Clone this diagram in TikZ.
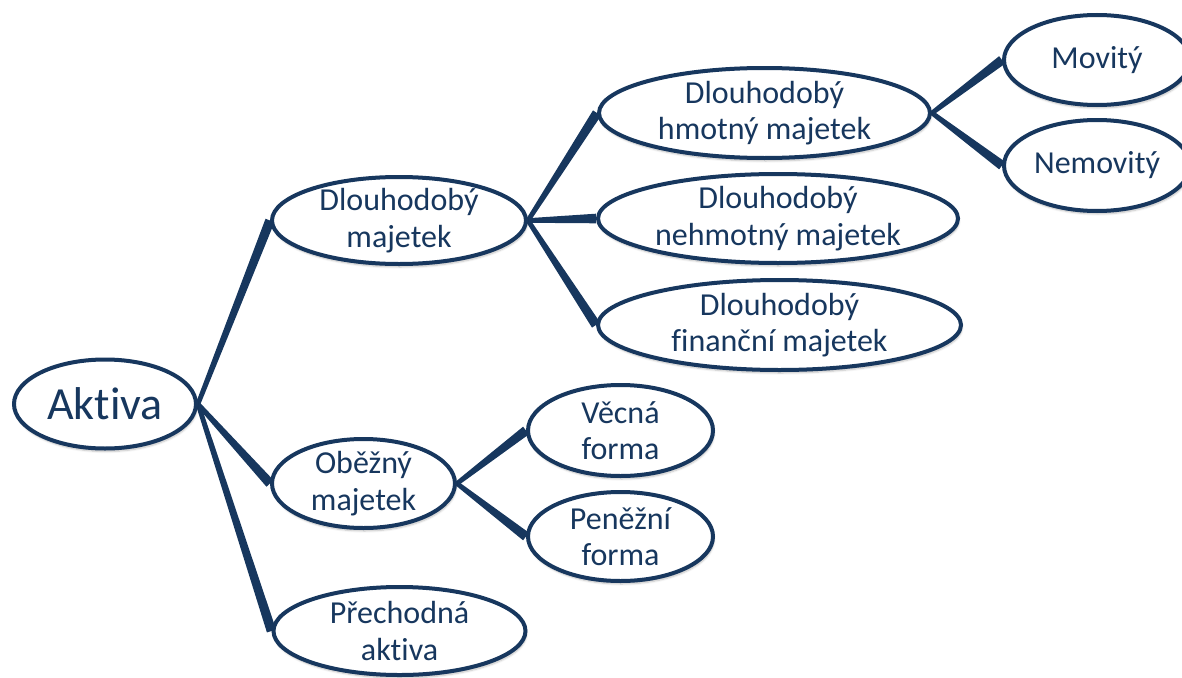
\documentclass[tikz,border=0pt]{standalone}
\usepackage{fontspec}
\setmainfont{Carlito}[Ligatures={NoCommon}]
\usetikzlibrary{shapes.geometric,shadows.blur,calc,backgrounds}
\definecolor{navy}{HTML}{17375E}
\tikzset{
  ell/.style={ellipse, draw=navy, line width=4pt, fill=white, inner sep=0pt,
    blur shadow={shadow xshift=1pt, shadow yshift=-3pt, shadow opacity=25, shadow blur steps=6}},
  txt/.style={text=navy, align=center, font=\fontsize{32}{36.5}\selectfont, inner sep=0pt},
  bigtxt/.style={text=navy, align=center, font=\fontsize{46}{50}\selectfont, inner sep=0pt},
}
\newcommand{\taperlink}[2]{%
  \fill[navy] ($(#1.east)!2.3pt!90:(#2.west)$) -- ($(#2.west)!4.8pt!-90:(#1.east)$)
    -- ($(#2.west)!4.8pt!90:(#1.east)$) -- ($(#1.east)!2.3pt!-90:(#2.west)$) -- cycle;}
\begin{document}
\begin{tikzpicture}[x=1pt,y=-1pt]
\useasboundingbox (0,0) rectangle (1182,677);

\node[ell, minimum width=182pt, minimum height=89pt, label={[bigtxt]center:Aktiva}] (akt) at (105,404) {};

\node[ell, minimum width=254pt, minimum height=87pt, label={[txt]center:{Dlouhodobý\\majetek}}] (dm) at (399,220.5) {};
\node[ell, minimum width=183pt, minimum height=89pt, label={[txt]center:{Oběžný\\majetek}}] (om) at (363.5,483.5) {};
\node[ell, minimum width=252pt, minimum height=88pt, label={[txt]center:{Přechodná\\aktiva}}] (pa) at (399.5,631) {};

\node[ell, minimum width=331pt, minimum height=90pt, label={[txt]center:{Dlouhodobý\\hmotný majetek}}] (dhm) at (764.5,113) {};
\node[ell, minimum width=360pt, minimum height=89pt, label={[txt]center:{Dlouhodobý\\nehmotný majetek}}] (dnm) at (778,218.5) {};
\node[ell, minimum width=363pt, minimum height=90pt, label={[txt]center:{Dlouhodobý\\finanční majetek}}] (dfm) at (779.5,325) {};

\node[ell, minimum width=186pt, minimum height=90pt, label={[txt]center:Movitý}] (mov) at (1097,60) {};
\node[ell, minimum width=186pt, minimum height=91pt, label={[txt]center:Nemovitý}] (nem) at (1097,165.5) {};

\node[ell, minimum width=185pt, minimum height=91pt, label={[txt]center:{Věcná\\forma}}] (vf) at (620.5,430.5) {};
\node[ell, minimum width=185pt, minimum height=89pt, label={[txt]center:{Peněžní\\forma}}] (pf) at (620.5,536.5) {};

\begin{pgfonlayer}{background}
\taperlink{akt}{dm}
\taperlink{akt}{om}
\taperlink{akt}{pa}
\taperlink{dm}{dhm}
\taperlink{dm}{dnm}
\taperlink{dm}{dfm}
\taperlink{dhm}{mov}
\taperlink{dhm}{nem}
\taperlink{om}{vf}
\taperlink{om}{pf}
\end{pgfonlayer}
\end{tikzpicture}
\end{document}
